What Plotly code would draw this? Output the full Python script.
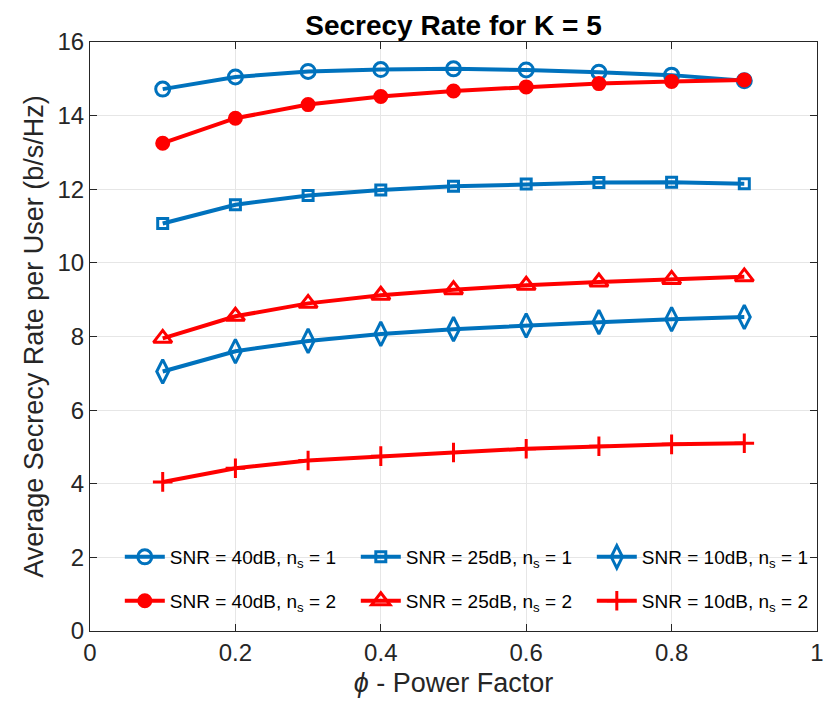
import plotly.graph_objects as go

phi = [0.1, 0.2, 0.3, 0.4, 0.5, 0.6, 0.7, 0.8, 0.9]
snr40_ns1 = [14.72, 15.05, 15.2, 15.25, 15.27, 15.24, 15.18, 15.1, 14.95]
snr25_ns1 = [11.07, 11.58, 11.83, 11.98, 12.08, 12.14, 12.18, 12.19, 12.15]
snr10_ns1 = [7.05, 7.6, 7.88, 8.07, 8.2, 8.3, 8.39, 8.47, 8.53]
snr40_ns2 = [13.25, 13.93, 14.3, 14.52, 14.67, 14.78, 14.87, 14.93, 14.97]
snr25_ns2 = [7.95, 8.55, 8.9, 9.12, 9.27, 9.39, 9.48, 9.55, 9.62]
snr10_ns2 = [4.05, 4.42, 4.63, 4.75, 4.85, 4.95, 5.02, 5.07, 5.1]

x_ticks = [0, 0.2, 0.4, 0.6, 0.8, 1]
x_ticktext = ["0", "0.2", "0.4", "0.6", "0.8", "1"]
y_ticks = [0, 2, 4, 6, 8, 10, 12, 14, 16]

names = ["SNR = 40dB, n<sub>s</sub> = 1", "SNR = 25dB, n<sub>s</sub> = 1", "SNR = 10dB, n<sub>s</sub> = 1",
         "SNR = 40dB, n<sub>s</sub> = 2", "SNR = 25dB, n<sub>s</sub> = 2", "SNR = 10dB, n<sub>s</sub> = 2"]
series = [snr40_ns1, snr25_ns1, snr10_ns1, snr40_ns2, snr25_ns2, snr10_ns2]
BLUE = "#0072BD"
RED = "#FF0000"
colors = [BLUE, BLUE, BLUE, RED, RED, RED]
symbols = ["circle-open", "square-open", "diamond-tall-open", "circle", "triangle-up-open", "cross-thin-open"]
sizes = [14, 10, 17, 12, 16, 14]
legends = ["legend", "legend", "legend", "legend2", "legend2", "legend2"]

fig = go.Figure()
for n, s, c, sym, sz, lg in zip(names, series, colors, symbols, sizes, legends):
    fig.add_trace(go.Scatter(
        x=phi, y=s, name=n, mode="lines+markers", legend=lg,
        line=dict(color=c, width=4),
        marker=dict(symbol=sym, size=sz, color=c, line=dict(color=c, width=3)),
    ))

axis_common = dict(
    showgrid=True, gridcolor="#E6E6E6", gridwidth=1,
    showline=True, linecolor="#262626", linewidth=1, mirror="ticks",
    ticks="inside", ticklen=7, tickcolor="#262626",
    tickfont=dict(size=24, color="#262626"), zeroline=False,
)
fig.update_xaxes(range=[0, 1], tickvals=x_ticks, ticktext=x_ticktext,
                 title=dict(text="<i>ϕ</i> - Power Factor", font=dict(size=27, color="#262626"), standoff=8),
                 **axis_common)
fig.update_yaxes(range=[0, 16], tickvals=y_ticks,
                 title=dict(text="Average Secrecy Rate per User (b/s/Hz)", font=dict(size=27, color="#262626"), standoff=6),
                 **axis_common)

leg_common = dict(orientation="h", x=0.041, xanchor="left", yanchor="middle",
                  entrywidth=181, entrywidthmode="pixels", bgcolor="rgba(255,255,255,0)",
                  font=dict(size=19, color="black"), itemwidth=40)

fig.update_layout(
    width=840, height=713,
    margin=dict(l=82, r=31, t=34, b=90),
    plot_bgcolor="white", paper_bgcolor="white",
    font=dict(family="Liberation Sans, Arial, Helvetica, sans-serif", color="#262626"),
    title=dict(text="<b>Secrecy Rate for K = 5</b>", x=0.5, xref="paper", xanchor="center",
               y=0.976, yanchor="middle", font=dict(size=28, color="black")),
    legend=dict(y=0.1256, **leg_common),
    legend2=dict(y=0.051, **leg_common),
    showlegend=True,
)

fig.write_html("out.html")
